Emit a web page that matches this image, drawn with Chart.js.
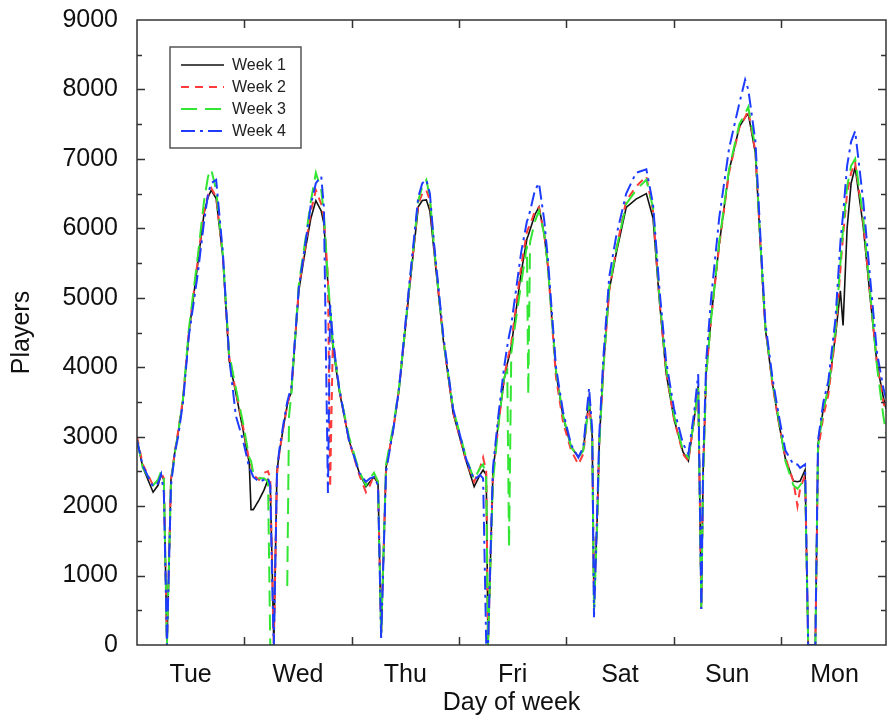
<!DOCTYPE html>
<html>
<head>
<meta charset="utf-8">
<script src="https://cdn.jsdelivr.net/npm/chart.js@4.4.1/dist/chart.umd.min.js"></script>
<style>
  html, body { margin: 0; padding: 0; background: #fff; }
</style>
</head>
<body>
<canvas id="players-chart" width="888" height="720"></canvas>
<script>
// hours since the start of the week (Tuesday 00:00)
const hours = [
  0, 1.3, 3.6, 4.7, 5.4, 6.0, 6.7, 7.6, 8.5, 9.2, 10.3, 11.6, 13.6, 15.0, 15.9, 16.6, 17.7, 19.2, 20.6, 22.1, 23.7,
  25.1, 25.5, 26.0, 27.3, 28.4, 29.3, 29.8, 30.2, 30.6, 31.3, 31.8, 32.9, 33.6, 34.0, 34.5,
  36.2, 37.8, 38.9, 40.0, 41.2, 41.8, 42.7, 43.2, 43.8, 45.2, 47.4, 49.7, 51.2, 52.1, 53.0, 53.9, 54.6, 55.7, 57.3, 58.6,
  60.9, 62.9, 63.8, 64.7, 65.5, 66.4, 68.5, 70.7, 73.6, 75.4, 76.7, 77.4, 78.1, 78.5, 79.6, 80.8, 82.1,
  82.8, 83.2, 83.7, 84.1, 85.9, 87.2, 87.5, 87.9, 89.0, 89.9, 91.1, 91.9, 93.7, 95.3, 97.1, 98.7, 99.8, 101.1, 101.8, 102.2, 102.9, 103.4, 104.3, 105.6,
  107.2, 109.4, 111.6, 113.9, 115.4, 116.8, 118.3, 120.1, 122.1, 123.3, 124.6, 125.5, 126.2, 126.6, 127.3, 128.4,
  130.2, 132.4, 134.7, 136.0, 136.7, 138.3, 139.4, 140.5, 142.1, 143.4, 145.0, 146.8, 147.7, 148.3, 149.4, 150.1, 151.7, 152.3, 153.5, 154.6,
  156.2, 157.3, 157.9, 158.8, 159.7, 160.6, 162.4, 164.0, 165.5, 166.9, 167.5
];

const week1 = [
  2950, 2560, 2200, 2300, 2450, 2380, 0, 2380, 2800, 3050, 3530, 4490, 5500, 6220, 6450, 6550, 6430, 5590, 4100, 3630, 3100,
  2620, 1950, 1950, 2090, 2230, 2380, 2300, 1200, 0, 2500, 2760, 3200, 3450, 3560, 3630,
  5110, 5750, 6150, 6400, 6250, 6070, 5200, 4800, 4300, 3670, 2950, 2480, 2280, 2350, 2420, 2330, 115, 2560, 3100, 3670,
  5110, 6310, 6400, 6410, 6250, 5690, 4390, 3340, 2650, 2280, 2450, 2520, 2450, 0, 2480, 3200, 3820,
  4050, 4150, 4300, 4490, 5360, 5850, 5900, 5980, 6200, 6310, 5900, 5440, 3920, 3280, 2850, 2710, 2810, 3530, 3000, 550, 1800, 2950, 4000, 5110,
  5650, 6300, 6420, 6500, 6150, 4980, 3930, 3250, 2780, 2650, 3250, 3730, 520, 2500, 3930, 4720,
  5770, 6830, 7460, 7600, 7650, 7080, 5770, 4560, 3770, 3250, 2680, 2360, 2350, 2360, 2520, 0, 0, 2890, 3410, 3670,
  4460, 5100, 4600, 6000, 6650, 6880, 6030, 4980, 4040, 3570, 3400
];

const week2 = [
  3000, 2600, 2300, 2350, 2480, 2400, 0, 2380, 2800, 3080, 3550, 4500, 5550, 6250, 6480, 6580, 6450, 5600, 4150, 3650, 3150,
  2650, 2600, 2450, 2380, 2480, 2500, 2400, 1200, 0, 2450, 2750, 3200, 3450, 3560, 3650,
  5150, 5800, 6250, 6550, 6350, 6150, 5300, 2270, 4400, 3700, 2950, 2450, 2200, 2300, 2450, 2350, 200, 2560, 3100, 3700,
  5150, 6350, 6500, 6550, 6400, 5750, 4400, 3350, 2650, 2350, 2550, 2700, 2500, 0, 2450, 3150, 3850,
  4100, 4200, 4350, 4550, 5450, 5950, 6000, 6050, 6250, 6300, 5900, 5450, 3850, 3200, 2800, 2600, 2750, 3500, 3000, 700, 1800, 2950, 4000, 5100,
  5700, 6400, 6600, 6750, 6250, 5000, 3950, 3250, 2750, 2650, 3250, 3700, 600, 2500, 3900, 4700,
  5750, 6800, 7450, 7600, 7700, 7100, 5800, 4600, 3750, 3250, 2700, 2350, 2000, 2250, 2450, 0, 0, 2800, 3300, 3600,
  4450, 5400, 5900, 6500, 6800, 6950, 6100, 5000, 4050, 3500, 3350
];

const week3 = [
  2950, 2550, 2300, 2380, 2500, 2400, 0, 2350, 2780, 3050, 3550, 4550, 5600, 6400, 6750, 6850, 6550, 5620, 4200, 3700, 3200,
  2700, 2650, 2480, 2400, 2400, 2350, 0, 0, 0, null, null, null, 850, 3300, 3600,
  5200, 5900, 6400, 6800, 6550, 6200, 5250, 4850, 4350, 3700, 3000, 2500, 2300, 2400, 2480, 2350, 150, 2600, 3150, 3700,
  5150, 6400, 6600, 6700, 6450, 5750, 4400, 3400, 2700, 2380, 2550, 2600, 2400, 0, 2350, 3150, 3850,
  3950, 1400, 4200, 4400, 5200, 5750, 3600, 5800, 6100, 6250, 5900, 5450, 3950, 3300, 2850, 2700, 2800, 3500, 3000, 500, 1700, 2900, 4000, 5150,
  5700, 6350, 6550, 6700, 6300, 5050, 4000, 3300, 2800, 2700, 3250, 3700, 550, 2400, 3900, 4700,
  5800, 6850, 7500, 7650, 7750, 7150, 5800, 4600, 3800, 3300, 2650, 2300, 2250, 2300, 2400, 0, 0, 2850, 3400, 3700,
  4550, 5500, 6000, 6600, 6900, 7000, 6150, 5050, 4000, 3300, 3050
];

const week4 = [
  2950, 2580, 2280, 2330, 2460, 2200, 0, 2300, 2780, 3000, 3500, 4450, 5350, 6100, 6500, 6650, 6700, 5650, 4150, 3300, 2950,
  2550, 2500, 2420, 2350, 2380, 2400, 2300, 1000, 0, 2500, 2800, 3250, 3500, 3600, 3700,
  5150, 5850, 6350, 6650, 6750, 6300, 2190, 4900, 4400, 3700, 2950, 2480, 2350, 2400, 2420, 2300, 100, 2500, 3100, 3700,
  5200, 6450, 6650, 6700, 6500, 5800, 4450, 3400, 2680, 2380, 2450, 2400, 0, 0, 2550, 3300, 4000,
  4300, 4450, 4600, 4800, 5650, 6100, 6150, 6250, 6550, 6650, 6100, 5550, 4000, 3350, 2880, 2700, 2850, 3700, 3100, 400, 1900, 3050, 4150, 5300,
  5900, 6500, 6800, 6850, 6350, 5150, 4100, 3400, 2900, 2750, 3350, 3900, 520, 2600, 4100, 5000,
  6150, 7150, 7800, 8140, 8000, 7250, 5900, 4650, 3850, 3350, 2800, 2600, 2600, 2550, 2600, 0, 0, 2950, 3500, 3800,
  4700, 5800, 6200, 6900, 7250, 7400, 6400, 5250, 4200, 3700, 3550
];

const dayLabels = ['Tue', 'Wed', 'Thu', 'Fri', 'Sat', 'Sun', 'Mon'];
const seriesNames = ['Week 1', 'Week 2', 'Week 3', 'Week 4'];

const colors = ['#111111', '#ff3b3b', '#33e633', '#1e3cff'];
const dashes = [[], [8, 6], [16, 8], [14, 5, 3, 5]];
const widths = [1.6, 2, 2, 2];

function toPoints(values) {
  return hours.map((h, i) => ({ x: h, y: values[i] }));
}

const fontFamily = '"Liberation Sans", Arial, Helvetica, sans-serif';

// box round the plot plus inward ticks on all four sides
const framePlugin = {
  id: 'frame',
  afterDatasetsDraw(chart) {
    const { ctx, chartArea: a, scales } = chart;
    const x = scales.x, y = scales.y;
    ctx.save();
    ctx.strokeStyle = '#333';
    ctx.lineWidth = 1.5;
    ctx.strokeRect(a.left, a.top, a.right - a.left, a.bottom - a.top);
    ctx.beginPath();
    for (let v = 500; v < 9000; v += 500) {
      const py = Math.round(y.getPixelForValue(v)) + 0.5;
      const len = v % 1000 === 0 ? 8 : 5;
      ctx.moveTo(a.left, py); ctx.lineTo(a.left + len, py);
      ctx.moveTo(a.right, py); ctx.lineTo(a.right - len, py);
    }
    for (let d = 1; d < dayLabels.length; d++) {
      const px = Math.round(x.getPixelForValue(d * 24)) + 0.5;
      ctx.moveTo(px, a.bottom); ctx.lineTo(px, a.bottom - 8);
      ctx.moveTo(px, a.top); ctx.lineTo(px, a.top + 8);
    }
    ctx.stroke();
    ctx.restore();
  }
};

// boxed legend in the upper left of the plot
const legendPlugin = {
  id: 'boxLegend',
  afterDraw(chart) {
    const { ctx } = chart;
    const bx = 170, by = 47, bw = 131, bh = 101;
    ctx.save();
    ctx.fillStyle = '#fff';
    ctx.fillRect(bx, by, bw, bh);
    ctx.strokeStyle = '#555';
    ctx.lineWidth = 1.5;
    ctx.strokeRect(bx, by, bw, bh);
    ctx.font = '16px ' + fontFamily;
    ctx.textBaseline = 'middle';
    seriesNames.forEach((name, i) => {
      const ly = by + 18 + i * 22;
      ctx.beginPath();
      ctx.setLineDash(dashes[i]);
      ctx.strokeStyle = colors[i];
      ctx.lineWidth = widths[i];
      ctx.moveTo(181, ly);
      ctx.lineTo(224, ly);
      ctx.stroke();
      ctx.setLineDash([]);
      ctx.fillStyle = '#222';
      ctx.fillText(name, 232, ly + 1);
    });
    ctx.restore();
  }
};

const datasets = [week1, week2, week3, week4].map((vals, i) => ({
  label: seriesNames[i],
  data: toPoints(vals),
  borderColor: colors[i],
  backgroundColor: colors[i],
  borderWidth: widths[i],
  borderDash: dashes[i],
  pointRadius: 0,
  tension: 0,
  spanGaps: false,
  fill: false,
  order: 3 - i   // week 4 drawn on top
}));

new Chart(document.getElementById('players-chart').getContext('2d'), {
  type: 'line',
  data: { datasets: datasets },
  options: {
    responsive: false,
    animation: false,
    events: [],
    layout: { padding: { top: 20, right: 2, left: 0, bottom: 0 } },
    plugins: {
      legend: { display: false },
      tooltip: { enabled: false }
    },
    scales: {
      x: {
        type: 'linear',
        min: 0,
        max: 167.5,
        grid: { display: false, drawTicks: false },
        border: { display: false },
        afterBuildTicks: (scale) => {
          scale.ticks = dayLabels.map((d, i) => ({ value: 12 + 24 * i }));
        },
        afterFit: (scale) => {
          scale.height = 75;
          scale.paddingLeft = 0;
          scale.paddingRight = 0;
        },
        ticks: {
          autoSkip: false,
          maxRotation: 0,
          padding: 15,
          color: '#111',
          font: { family: fontFamily, size: 25 },
          callback: (value, index) => dayLabels[index]
        },
        title: {
          display: true,
          text: 'Day of week',
          color: '#111',
          padding: { top: 0, bottom: 2 },
          font: { family: fontFamily, size: 25 }
        }
      },
      y: {
        min: 0,
        max: 9000,
        grid: { display: false, drawTicks: false },
        border: { display: false },
        afterFit: (scale) => {
          scale.width = 137;
          scale.paddingTop = 0;
          scale.paddingBottom = 0;
        },
        ticks: {
          stepSize: 1000,
          padding: 19,
          color: '#111',
          font: { family: fontFamily, size: 25 },
          callback: (value) => String(value)
        },
        title: {
          display: true,
          text: 'Players',
          color: '#111',
          padding: { top: 7, bottom: 0 },
          font: { family: fontFamily, size: 25 }
        }
      }
    }
  },
  plugins: [framePlugin, legendPlugin]
});
</script>
</body>
</html>
